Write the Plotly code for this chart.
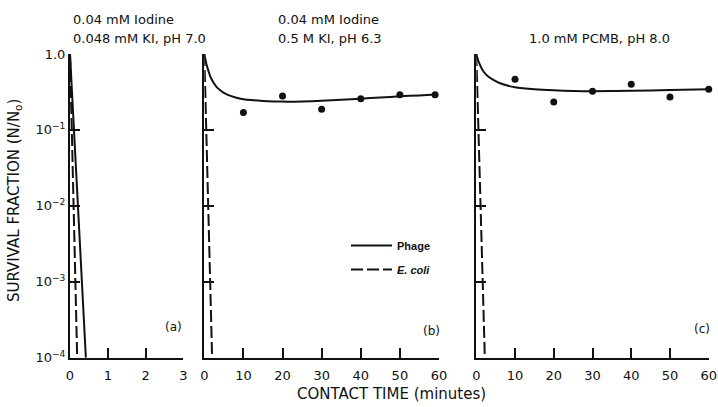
import plotly.graph_objects as go

W, H = 718, 407

# (a) 0.04 mM iodine, 0.048 mM KI, pH 7.0
a_phage_t = [0.0, 0.42]
a_phage_s = [1.0, 1e-4]
a_coli_t = [0.0, 0.19]
a_coli_s = [1.0, 1e-4]

# (b) 0.04 mM iodine, 0.5 M KI, pH 6.3
b_obs_t = [10, 20, 30, 40, 50, 59]
b_obs_s = [0.17, 0.28, 0.187, 0.258, 0.29, 0.29]
b_fit_t = [0, 0.25, 0.5, 1, 1.5, 2, 3, 4, 5, 6, 8, 10, 12, 15, 20, 25, 30, 35, 40, 45, 50, 55, 59]
b_fit_s = [1.0, 0.86, 0.75, 0.61, 0.51, 0.45, 0.375, 0.335, 0.308, 0.29, 0.268, 0.254,
           0.247, 0.241, 0.236, 0.237, 0.242, 0.25, 0.258, 0.267, 0.277, 0.285, 0.292]
b_coli_t = [0.0, 2.0]
b_coli_s = [1.0, 1e-4]

# (c) 1.0 mM PCMB, pH 8.0
c_obs_t = [10, 20, 30, 40, 50, 60]
c_obs_s = [0.465, 0.233, 0.323, 0.40, 0.272, 0.343]
c_fit_t = [0, 0.25, 0.5, 1, 1.5, 2, 3, 4, 5, 6, 8, 10, 12, 15, 20, 25, 30, 40, 50, 60]
c_fit_s = [1.0, 0.9, 0.82, 0.71, 0.63, 0.575, 0.51, 0.47, 0.44, 0.415, 0.385, 0.365,
           0.354, 0.343, 0.332, 0.325, 0.323, 0.328, 0.335, 0.343]
c_coli_t = [0.0, 2.2]
c_coli_s = [1.0, 1e-4]

y_tickvals = [1e-4, 1e-3, 1e-2, 1e-1, 1.0]
y_ticktext = ["10<sup>\u22124</sup>", "10<sup>\u22123</sup>", "10<sup>\u22122</sup>",
              "10<sup>\u22121</sup>", "1.0"]
xa_ticks = [0, 1, 2, 3]
xbc_ticks = [0, 10, 20, 30, 40, 50, 60]

titles = [
    ("0.04 mM Iodine", 71, 19, "left"),
    ("0.048 mM KI, pH 7.0", 71, 38, "left"),
    ("0.04 mM Iodine", 276, 19, "left"),
    ("0.5 M KI, pH 6.3", 276, 38, "left"),
    ("1.0 mM PCMB, pH 8.0", 599, 38, "center"),
]
panel_tags = [("(a)", 184, 327), ("(b)", 442, 331), ("(c)", 712, 329)]

FONT = "DejaVu Sans"
INK = "#111111"
phage_line = dict(color=INK, width=2)
coli_line = dict(color=INK, width=2, dash="12px,4px")

fig = go.Figure()

def add(t, s, ax, line=None, mode="lines", name=None, legend=False, group=None, shape="linear"):
    kw = dict(x=t, y=s, xaxis="x" + ax, yaxis="y" + ax, mode=mode,
              showlegend=legend, name=name, cliponaxis=False, hoverinfo="skip")
    if group:
        kw["legendgroup"] = group
    if line is not None:
        kw["line"] = dict(line, shape=shape, smoothing=0.6) if shape == "spline" else line
    if "markers" in mode:
        kw["marker"] = dict(color=INK, size=7)
    fig.add_trace(go.Scatter(**kw))

add(a_phage_t, a_phage_s, "", phage_line)
add(a_coli_t, a_coli_s, "", coli_line)
add(b_fit_t, b_fit_s, "2", phage_line, name="<b>Phage</b>", legend=True, group="phage",
    shape="spline")
add(b_obs_t, b_obs_s, "2", mode="markers")
add(b_coli_t, b_coli_s, "2", coli_line, name="<b><i>E. coli</i></b>", legend=True, group="coli")
add(c_fit_t, c_fit_s, "3", phage_line, shape="spline")
add(c_obs_t, c_obs_s, "3", mode="markers")
add(c_coli_t, c_coli_s, "3", coli_line)

def px(x):
    return x / W

def py(y):
    return 1 - y / H

ydom = [py(357.7), py(54)]
xdoms = {"": [px(70), px(183.3)], "2": [px(204.3), px(439)], "3": [px(476.3), px(708.7)]}

axis_common = dict(showline=True, linecolor=INK, linewidth=2, ticks="inside",
                   ticklen=10, tickwidth=1.5, tickcolor=INK, showgrid=False,
                   zeroline=False, automargin=False,
                   tickfont=dict(family=FONT, size=13, color=INK))
layout = dict(width=W, height=H, margin=dict(l=0, r=0, t=0, b=0, autoexpand=False),
              paper_bgcolor="white", plot_bgcolor="white", template="none",
              font=dict(family=FONT, color=INK))
for ax in ["", "2", "3"]:
    xr = [0, 3] if ax == "" else [0, 60]
    tv = xa_ticks if ax == "" else xbc_ticks
    layout["xaxis" + ax] = dict(axis_common, domain=xdoms[ax], range=xr, tickvals=tv,
                                anchor="y" + ax, ticklabelstandoff=5)
    layout["yaxis" + ax] = dict(axis_common, domain=ydom, type="log", range=[-4, 0],
                                tickvals=y_tickvals, ticktext=y_ticktext,
                                showticklabels=(ax == ""), anchor="x" + ax)

anns = []
for text, x, y, anchor in titles:
    anns.append(dict(text=text, x=px(x), y=py(y), xref="paper", yref="paper",
                     xanchor=anchor, yanchor="middle", showarrow=False,
                     font=dict(family=FONT, size=13, color=INK)))
for text, x, y in panel_tags:
    anns.append(dict(text=text, x=px(x), y=py(y), xref="paper", yref="paper",
                     xanchor="right", yanchor="middle", showarrow=False,
                     font=dict(family=FONT, size=12, color=INK)))
anns.append(dict(text="SURVIVAL FRACTION (N/N<sub>o</sub>)", x=px(15), y=py(201),
                 xref="paper", yref="paper", textangle=-90, showarrow=False,
                 xanchor="center", yanchor="middle",
                 font=dict(family=FONT, size=15, color=INK)))
anns.append(dict(text="CONTACT TIME (minutes)", x=px(391), y=py(394),
                 xref="paper", yref="paper", showarrow=False,
                 xanchor="center", yanchor="middle",
                 font=dict(family=FONT, size=15, color=INK)))
layout["annotations"] = anns
layout["legend"] = dict(x=px(346), y=py(231), xanchor="left", yanchor="top",
                        bgcolor="rgba(0,0,0,0)", tracegroupgap=5, itemwidth=41,
                        font=dict(family="Liberation Sans", size=11, color=INK))
fig.update_layout(**layout)
fig.write_html("out.html")
